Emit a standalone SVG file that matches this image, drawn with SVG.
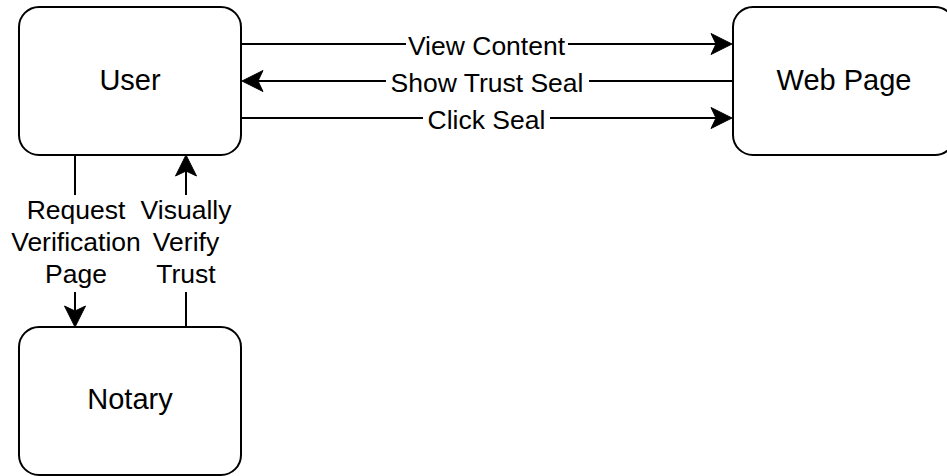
<svg xmlns="http://www.w3.org/2000/svg" width="947" height="476" viewBox="0 0 947 476">
  <defs>
    <style>
      .node rect { fill: #ffffff; stroke: #000000; stroke-width: 2; }
      .node text { font-family: "Liberation Sans", Arial, Helvetica, sans-serif; font-size: 29px; fill: #000000; text-anchor: middle; }
      .edge { fill: none; stroke: #000000; stroke-width: 2; }
      .label { font-family: "Liberation Sans", Arial, Helvetica, sans-serif; font-size: 26.5px; fill: #000000; text-anchor: middle; }
      .label-bg { fill: #ffffff; stroke: none; }
    </style>
    <marker id="arrow" viewBox="-24 -12 34 24" refX="-8" refY="0" markerWidth="34" markerHeight="24" markerUnits="userSpaceOnUse" orient="auto">
      <path d="M0,0 L-21,-10.5 L-16,0 L-21,10.5 Z" fill="#000000" stroke="#000000" stroke-width="1" stroke-linejoin="miter"/>
    </marker>
  </defs>

  <rect width="947" height="476" fill="#ffffff"/>

  <!-- connectors -->
  <g id="connectors">
    <!-- User -> Web Page : View Content -->
    <path class="edge" d="M241,44 L724,44" marker-end="url(#arrow)"/>
    <!-- Web Page -> User : Show Trust Seal -->
    <path class="edge" d="M733,81 L250,81" marker-end="url(#arrow)"/>
    <!-- User -> Web Page : Click Seal -->
    <path class="edge" d="M241,118 L724,118" marker-end="url(#arrow)"/>
    <!-- User -> Notary : Request Verification Page -->
    <path class="edge" d="M75,155 L75,319" marker-end="url(#arrow)"/>
    <!-- Notary -> User : Visually Verify Trust -->
    <path class="edge" d="M186,327 L186,163" marker-end="url(#arrow)"/>

    <!-- edge labels -->
    <rect class="label-bg" x="406" y="32" width="162" height="26"/>
    <text class="label" x="486.5" y="54.5">View Content</text>

    <rect class="label-bg" x="386" y="69" width="203" height="26"/>
    <text class="label" x="487" y="91.5">Show Trust Seal</text>

    <rect class="label-bg" x="423" y="106" width="127" height="26"/>
    <text class="label" x="486.5" y="128.5">Click Seal</text>

    <rect class="label-bg" x="10" y="195" width="132" height="97"/>
    <text class="label" x="76" y="218.5">Request</text>
    <text class="label" x="76" y="250.5">Verification</text>
    <text class="label" x="76" y="282.5">Page</text>

    <rect class="label-bg" x="140" y="195" width="93" height="97"/>
    <text class="label" x="186" y="218.5">Visually</text>
    <text class="label" x="186" y="250.5">Verify</text>
    <text class="label" x="186" y="282.5">Trust</text>
  </g>

  <!-- nodes -->
  <g id="user" class="node">
    <rect x="19" y="7" width="222" height="148" rx="20" ry="20"/>
    <text x="130" y="89.5">User</text>
  </g>

  <g id="web-page" class="node">
    <rect x="733" y="7" width="222" height="148" rx="20" ry="20"/>
    <text x="844" y="89.5">Web Page</text>
  </g>

  <g id="notary" class="node">
    <rect x="19" y="327" width="222" height="148" rx="20" ry="20"/>
    <text x="130" y="409">Notary</text>
  </g>
</svg>
